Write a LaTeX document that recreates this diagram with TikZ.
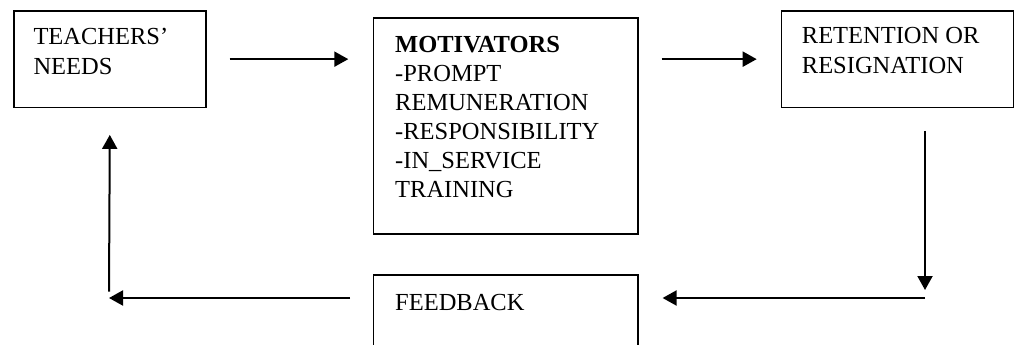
\documentclass[tikz,border=0pt]{standalone}
\usepackage{fontspec}
\setmainfont{Liberation Serif}
\usetikzlibrary{arrows.meta}
\begin{document}
\begin{tikzpicture}[x=1pt,y=-1pt,
  box/.style={draw, line width=1.6pt, inner sep=0pt, anchor=north west},
  txt/.style={anchor=base west, inner sep=0pt, align=left, font=\fontsize{24.5}{30}\selectfont},
  conn/.style={line width=2pt, -{Triangle[length=14pt,width=15pt]}}
]
\useasboundingbox (0,0) rectangle (1014,345);
\clip (0,0) rectangle (1014,345);
% boxes
\node[box, minimum width=192pt, minimum height=96.7pt] (needs) at (13,10) {};
\node[box, minimum width=264.3pt, minimum height=216pt] (motiv) at (372.7,17.3) {};
\node[box, minimum width=232.3pt, minimum height=96.7pt] (ret) at (780.7,10) {};
\node[box, minimum width=264.3pt, minimum height=90pt] (feed) at (372.7,274) {};
% texts (anchored at the baseline of their last line)
\node[txt] (needs-t) at (33.3,74.5) {TEACHERS’\\NEEDS};
\node[txt, font=\fontsize{24.5}{29}\selectfont] (motiv-t) at (395,197.3)
  {\textbf{MOTIVATORS}\\-PROMPT\\REMUNERATION\\-RESPONSIBILITY\\-IN\_SERVICE\\TRAINING};
\node[txt] (ret-t) at (801.7,73.3) {RETENTION OR\\RESIGNATION};
\node[txt] (feed-t) at (395,310) {FEEDBACK};
% corners
\coordinate (cR) at (925,298);
\coordinate (cL) at (109,298);
% connectors
\draw[conn] ([xshift=23pt]needs.east) -- ([xshift=-24.4pt]needs.east -| motiv.west);
\draw[conn] ([xshift=23pt]motiv.east |- ret.west) -- ([xshift=-24pt]ret.west);
\draw[conn] ([yshift=-22.6pt]ret.south -| cR) -- ([yshift=8pt]cR);
\draw[conn] (cR) -- ([xshift=24pt]feed.east |- cR);
\draw[conn] ([xshift=-22.7pt]feed.west |- cL) -- (cL);
\draw[conn] ([yshift=6.3pt]cL) -- ([yshift=-26.6pt]needs.south);
\end{tikzpicture}
\end{document}
